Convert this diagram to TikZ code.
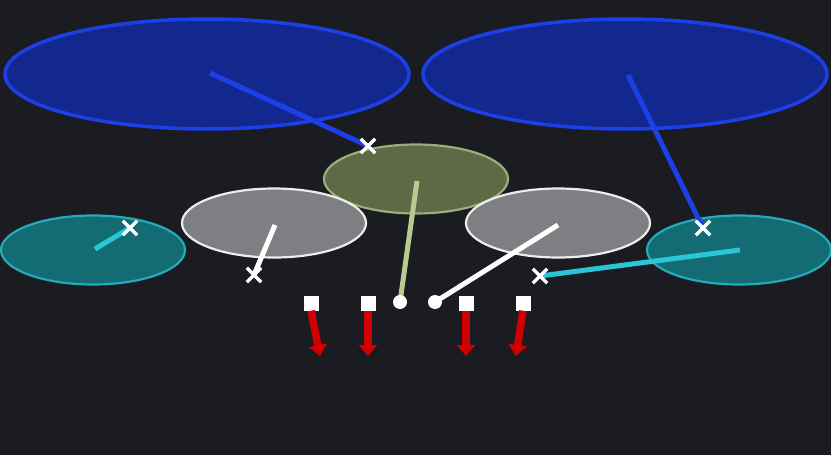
\documentclass[tikz,border=0pt]{standalone}
\usepackage{tikz}
\usetikzlibrary{shapes.geometric,shapes.misc,arrows.meta,positioning}

\definecolor{bg}{HTML}{1A1C21}
\definecolor{bluefill}{HTML}{13288E}
\definecolor{blueline}{HTML}{1D3FE6}
\definecolor{olivefill}{HTML}{5E6A46}
\definecolor{oliveline}{HTML}{B9C98F}
\definecolor{grayfill}{HTML}{7E7F82}
\definecolor{tealfill}{HTML}{136B74}
\definecolor{tealline}{HTML}{2BC6D6}
\definecolor{redarrow}{HTML}{D00000}

\tikzset{
	zone/.style={ellipse,draw,line width=2.2pt,inner sep=0pt},
	bigzone/.style={zone,fill=bluefill,draw=blueline,line width=3.5pt,minimum width=404pt,minimum height=110pt},
	midzone/.style={zone,minimum width=184pt,minimum height=69pt},
	cross/.style={cross out,draw=white,line width=3.4pt,minimum size=11pt,inner sep=0pt},
	dot/.style={circle,fill=white,minimum size=14pt,inner sep=0pt},
	box/.style={rectangle,fill=white,minimum size=15pt,inner sep=0pt},
	stick/.style={line width=5pt},
	push/.style={-{Triangle[length=11pt,width=18pt]},line width=7.5pt,draw=redarrow}
}

\begin{document}
\begin{tikzpicture}[x=1pt,y=-1pt]
	\fill[bg] (0,0) rectangle (831,455);
	\useasboundingbox (0,0) rectangle (831,455);
	% zones
	\node[bigzone] (bl) at (207,74) {};
	\node[bigzone] (br) at (625,74) {};
	\node[midzone,fill=olivefill,draw=oliveline!70!olivefill] (ol) at (416,179) {};
	\node[midzone,fill=grayfill,draw=white!85!gray] (gl) at (274,223) {};
	\node[midzone,fill=grayfill,draw=white!85!gray] (gr) at (558,223) {};
	\node[midzone,fill=tealfill,draw=tealline!70!tealfill] (tl) at (93,250) {};
	\node[midzone,fill=tealfill,draw=tealline!70!tealfill] (tr) at (739,250) {};
	% anchors of the sticks
	\coordinate (blc) at (210,73);
	\coordinate (brc) at (628,75);
	\coordinate (olc) at (417,181);
	\coordinate (glc) at (275,225);
	\coordinate (grc) at (558,225);
	\coordinate (tlc) at (95,249);
	\coordinate (trc) at (740,250);
	% ends
	\coordinate (xbl) at (368,146);
	\coordinate (xbr) at (703,228);
	\coordinate (xgl) at (254,275);
	\coordinate (xtl) at (130,228);
	\coordinate (xtr) at (540,276);
	\coordinate (dol) at (400,302);
	\coordinate (dgr) at (435,302);
	% boxes
	\node[box] (s1) at (311,303) {};
	\node[box] (s2) at (368,303) {};
	\node[box] (s3) at (466,303) {};
	\node[box] (s4) at (523,303) {};
	\coordinate (e1) at (320,356);
	\coordinate (e2) at (368,356);
	\coordinate (e3) at (466,356);
	\coordinate (e4) at (516,356);
	\draw[stick,blueline] (blc) -- (xbl)
		(brc) -- (xbr);
	\draw[stick,oliveline] (olc) -- (dol);
	\draw[stick,white] (glc) -- (xgl)
		(grc) -- (dgr);
	\draw[stick,tealline] (tlc) -- (xtl)
		(trc) -- (xtr);
	\foreach \p in {xbl,xbr,xgl,xtl,xtr}
		\node[cross] at (\p) {};
	\foreach \p in {dol,dgr}
		\node[dot] at (\p) {};
	\draw[push] (s1.south) -- (e1);
	\draw[push] (s2.south) -- (e2);
	\draw[push] (s3.south) -- (e3);
	\draw[push] (s4.south) -- (e4);
\end{tikzpicture}
\end{document}
